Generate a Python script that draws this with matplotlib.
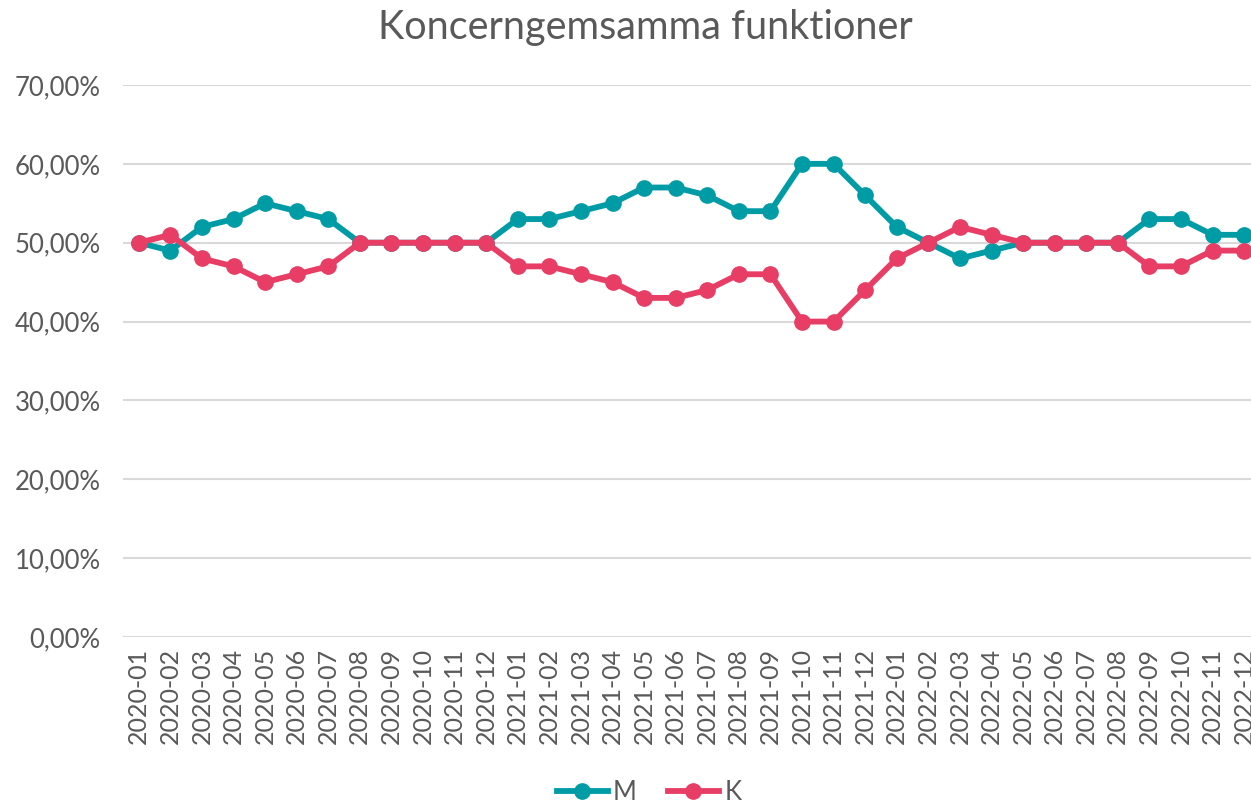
import matplotlib.pyplot as plt
from matplotlib.ticker import FuncFormatter

months = [f"{y}-{m:02d}" for y in (2020, 2021, 2022) for m in range(1, 13)]

m_values = [50, 49, 52, 53, 55, 54, 53, 50, 50, 50, 50, 50,
            53, 53, 54, 55, 57, 57, 56, 54, 54, 60, 60, 56,
            52, 50, 48, 49, 50, 50, 50, 50, 53, 53, 51, 51]
k_values = [50, 51, 48, 47, 45, 46, 47, 50, 50, 50, 50, 50,
            47, 47, 46, 45, 43, 43, 44, 46, 46, 40, 40, 44,
            48, 50, 52, 51, 50, 50, 50, 50, 47, 47, 49, 49]

teal = '#009ca6'
red = '#e83d64'
grey = '#595959'

plt.rcParams['font.family'] = ['Lato', 'DejaVu Sans']

fig = plt.figure(figsize=(12.51, 8.06), dpi=100)
ax = fig.add_axes([123 / 1251, 1 - 637 / 806, 1137 / 1251, (637 - 85) / 806])

x = list(range(len(months)))
ax.plot(x, m_values, color=teal, lw=4.2, marker='o', ms=11, label='M', zorder=3)
ax.plot(x, k_values, color=red, lw=4.2, marker='o', ms=11, label='K', zorder=4)

ax.set_xlim(-0.5, len(months) - 0.5)
ax.set_ylim(0, 70)
ax.set_yticks(range(0, 71, 10))
ax.yaxis.set_major_formatter(FuncFormatter(lambda v, p: f"{v:.2f}%".replace('.', ',')))
ax.set_xticks(x)
ax.set_xticklabels(months, rotation=90)
ax.tick_params(axis='both', length=0, labelsize=18.5, labelcolor=grey)
ax.tick_params(axis='x', labelsize=18, pad=8)
ax.tick_params(axis='y', pad=16)
ax.grid(axis='y', color='#d9d9d9', lw=1.5)
ax.set_axisbelow(True)
for s in ax.spines.values():
    s.set_visible(False)

fig.text(645 / 1251, 1 - 27 / 806, 'Koncerngemsamma funktioner', ha='center', va='center',
         fontsize=28.5, color=grey)

fig.legend(loc='center', bbox_to_anchor=(649 / 1251, 1 - 792 / 806), ncol=2, frameon=False,
           fontsize=18.5, labelcolor=grey, handlelength=2.0, handletextpad=0.2, columnspacing=1.2)

fig.savefig('out.png', dpi=100)
